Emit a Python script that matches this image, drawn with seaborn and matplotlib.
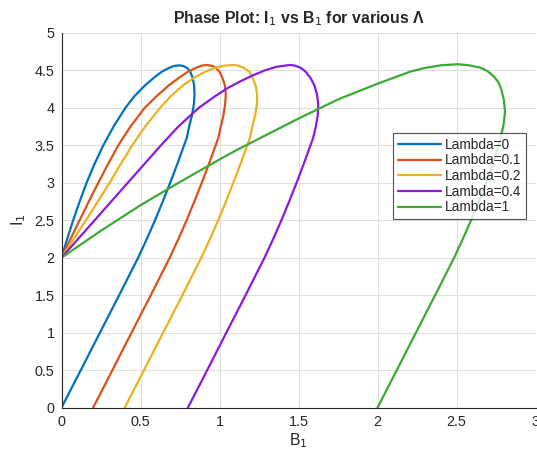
import numpy as np
import pandas as pd
import matplotlib
matplotlib.use("Agg")
import matplotlib.pyplot as plt
import seaborn as sns

# Digitized curves (B1, I1) traced along each loop:
# lower branch upwards, round the top, then the upper branch back to (0, 2)
B_L0 = [0, 0.122, 0.243, 0.365, 0.425, 0.485, 0.54, 0.592, 0.641, 0.688, 0.733, 0.776, 0.793, 0.808, 0.826, 0.838,
        0.842, 0.839, 0.83, 0.815, 0.795, 0.772, 0.745,
        0.71, 0.68, 0.635, 0.585, 0.53, 0.46, 0.405, 0.33, 0.265, 0.209, 0.159, 0.115, 0.074, 0.036, 0]
I_L0 = [0, 0.5, 1, 1.5, 1.75, 2, 2.25, 2.5, 2.75, 3, 3.25, 3.5, 3.6, 3.75, 3.9, 4.05,
        4.18, 4.3, 4.4, 4.48, 4.53, 4.555, 4.565,
        4.555, 4.53, 4.48, 4.4, 4.3, 4.15, 4.0, 3.75, 3.5, 3.25, 3.0, 2.75, 2.5, 2.25, 2]

B_L01 = [0.2, 0.322, 0.443, 0.565, 0.625, 0.685, 0.74, 0.792, 0.841, 0.888, 0.933, 0.976, 0.993, 1.008, 1.025, 1.036,
         1.04, 1.034, 1.018, 1.0, 0.975, 0.95, 0.919,
         0.885, 0.85, 0.80, 0.745, 0.68, 0.60, 0.527, 0.437, 0.36, 0.295, 0.233, 0.173, 0.115, 0.057, 0]
I_L01 = [0, 0.5, 1, 1.5, 1.75, 2, 2.25, 2.5, 2.75, 3, 3.25, 3.5, 3.6, 3.75, 3.9, 4.05,
         4.18, 4.3, 4.4, 4.48, 4.535, 4.56, 4.57,
         4.56, 4.53, 4.48, 4.4, 4.3, 4.15, 4.0, 3.75, 3.5, 3.25, 3.0, 2.75, 2.5, 2.25, 2]

B_L02 = [0.4, 0.522, 0.643, 0.765, 0.825, 0.885, 0.94, 0.992, 1.041, 1.088, 1.133, 1.176, 1.193, 1.208, 1.226, 1.237,
         1.238, 1.228, 1.21, 1.19, 1.15, 1.12, 1.087,
         1.03, 0.97, 0.91, 0.84, 0.77, 0.69, 0.625, 0.53, 0.448, 0.375, 0.305, 0.23, 0.155, 0.077, 0]
I_L02 = [0, 0.5, 1, 1.5, 1.75, 2, 2.25, 2.5, 2.75, 3, 3.25, 3.5, 3.6, 3.75, 3.9, 4.05,
         4.18, 4.3, 4.4, 4.48, 4.535, 4.56, 4.57,
         4.56, 4.53, 4.48, 4.4, 4.3, 4.15, 4.0, 3.75, 3.5, 3.25, 3.0, 2.75, 2.5, 2.25, 2]

B_L04 = [0.8, 0.922, 1.043, 1.165, 1.225, 1.285, 1.34, 1.392, 1.441, 1.488, 1.533, 1.576, 1.593, 1.61, 1.622, 1.625,
         1.617, 1.60, 1.575, 1.545, 1.515, 1.48, 1.446,
         1.36, 1.29, 1.21, 1.13, 1.05, 0.97, 0.87, 0.74, 0.63, 0.525, 0.42, 0.315, 0.21, 0.105, 0]
I_L04 = [0, 0.5, 1, 1.5, 1.75, 2, 2.25, 2.5, 2.75, 3, 3.25, 3.5, 3.6, 3.75, 3.9, 4.05,
         4.18, 4.3, 4.4, 4.48, 4.53, 4.56, 4.57,
         4.545, 4.5, 4.43, 4.35, 4.26, 4.15, 4.0, 3.75, 3.5, 3.25, 3.0, 2.75, 2.5, 2.25, 2]

B_L1 = [2.0, 2.122, 2.243, 2.365, 2.425, 2.485, 2.54, 2.592, 2.641, 2.688, 2.73, 2.765, 2.786, 2.80, 2.807, 2.80,
        2.783, 2.765, 2.735, 2.695, 2.65, 2.58, 2.51,
        2.40, 2.30, 2.206, 2.142, 2.0, 1.75, 1.5, 1.25, 1.109, 1.0, 0.75, 0.5, 0.25, 0]
I_L1 = [0, 0.5, 1, 1.5, 1.75, 2, 2.25, 2.5, 2.75, 3, 3.25, 3.5, 3.66, 3.8, 3.95, 4.1,
        4.25, 4.34, 4.42, 4.49, 4.535, 4.565, 4.58,
        4.565, 4.53, 4.48, 4.43, 4.32, 4.11, 3.855, 3.587, 3.436, 3.31, 3.01, 2.70, 2.36, 2]

labels = ["Lambda=0", "Lambda=0.1", "Lambda=0.2", "Lambda=0.4", "Lambda=1"]
colors = ["#0072BD", "#D95319", "#EDB120", "#8A1BDC", "#3DAA35"]

frames = []
for lab, b, i in zip(labels, [B_L0, B_L01, B_L02, B_L04, B_L1], [I_L0, I_L01, I_L02, I_L04, I_L1]):
    frames.append(pd.DataFrame({"B1": b, "I1": i, "Lambda": lab, "step": range(len(b))}))
df = pd.concat(frames, ignore_index=True)

sns.set_style("white")
plt.rcParams["font.family"] = ["Liberation Sans", "DejaVu Sans"]

fig = plt.figure(figsize=(5.37, 4.54), dpi=100)
ax = fig.add_axes([61.5 / 537, 1 - 407.7 / 454, 474 / 537, 375 / 454])

sns.lineplot(data=df, x="B1", y="I1", hue="Lambda", hue_order=labels, palette=colors,
             sort=False, estimator=None, lw=1.6, ax=ax)
for ln in ax.lines:
    ln.set_solid_joinstyle("round")

ax.set_xlim(0, 3)
ax.set_ylim(0, 5)
ax.set_xticks([0, 0.5, 1, 1.5, 2, 2.5, 3])
ax.set_xticklabels(["0", "0.5", "1", "1.5", "2", "2.5", "3"])
ax.set_yticks([0, 0.5, 1, 1.5, 2, 2.5, 3, 3.5, 4, 4.5, 5])
ax.set_yticklabels(["0", "0.5", "1", "1.5", "2", "2.5", "3", "3.5", "4", "4.5", "5"])
ax.grid(True, color="#dfdfdf", lw=0.8)
ax.set_axisbelow(True)
for s in ["top", "right"]:
    ax.spines[s].set_visible(False)
for s in ["left", "bottom"]:
    ax.spines[s].set_color("#262626")
    ax.spines[s].set_linewidth(0.8)
ax.tick_params(direction="in", length=4, width=0.8, colors="#262626", labelsize=10.4, pad=5)

ax.set_xlabel("B$_1$", fontsize=11.4, color="#262626", labelpad=2)
ax.set_ylabel("I$_1$", fontsize=11.4, color="#262626", labelpad=5)
ax.set_title("Phase Plot: I$_1$ vs B$_1$ for various Λ", fontsize=11.4, fontweight="bold", color="#262626", pad=7)

leg = ax.legend(loc="upper left", bbox_to_anchor=(0.699, 0.7325), borderaxespad=0, fontsize=9.8,
                frameon=True, fancybox=False, edgecolor="#262626", handlelength=3.2, handletextpad=0.3,
                labelspacing=0.12, borderpad=0.35, title=None)
leg.get_frame().set_linewidth(0.8)

fig.savefig("out.png", dpi=100)
